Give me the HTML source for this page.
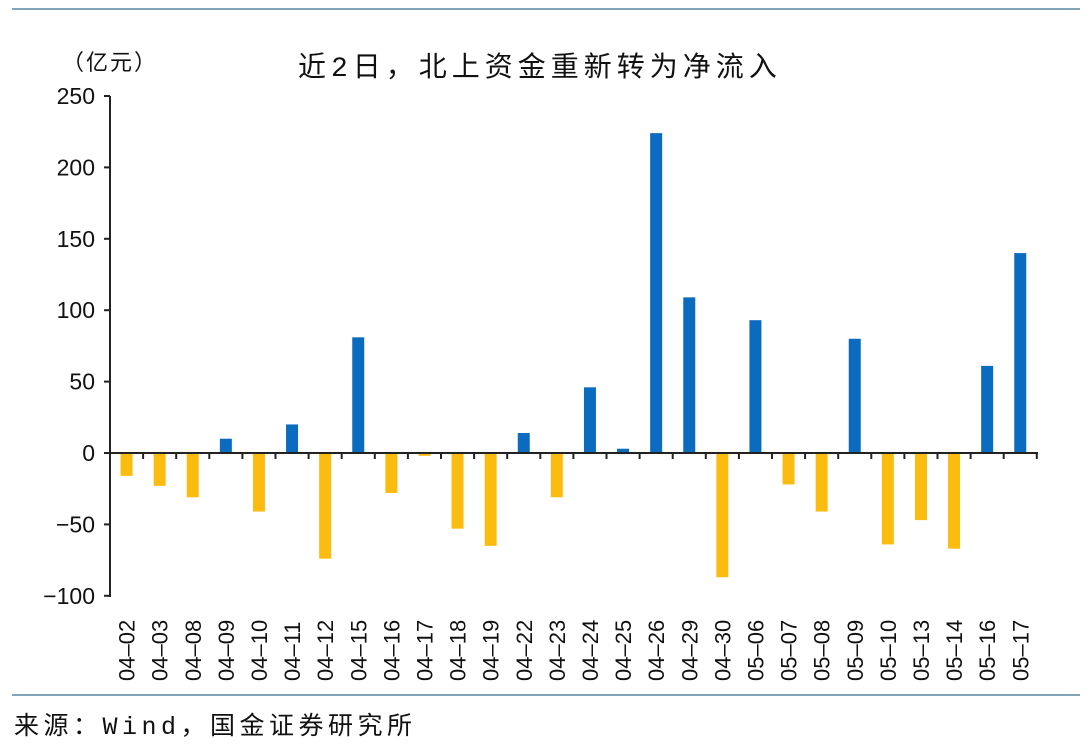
<!DOCTYPE html>
<html><head><meta charset="utf-8"><style>
body{margin:0;background:#fff;}
svg{display:block;font-family:"Liberation Sans","Noto Sans CJK SC",sans-serif;}
</style></head><body>
<svg width="1092" height="745" viewBox="0 0 1092 745">
<line x1="12" y1="9" x2="1080" y2="9" stroke="#5b86a6" stroke-width="1.5"/>
<line x1="12" y1="695" x2="1080" y2="695" stroke="#5b86a6" stroke-width="1.5"/>
<text x="62" y="70" font-size="22" fill="#111" letter-spacing="2" font-family="'Liberation Mono','Noto Sans CJK SC',monospace">（亿元）</text>
<text x="298" y="76" font-size="28" fill="#111" letter-spacing="5" font-family="'Liberation Mono','Noto Sans CJK SC',monospace">近2日，北上资金重新转为净流入</text>
<g id="chart"></g>
<text x="14" y="734" font-size="25" fill="#111" letter-spacing="4.5" font-family="'Liberation Mono','Noto Sans CJK SC',monospace">来源：Wind，国金证券研究所</text>
</svg>
<script>
var vals=[-16,-23,-31,10,-41,20,-74,81,-28,-2,-53,-65,14,-31,46,3,224,109,-87,93,-22,-41,80,-64,-47,-67,61,140];
var labs=["04-02","04-03","04-08","04-09","04-10","04-11","04-12","04-15","04-16","04-17","04-18","04-19","04-22","04-23","04-24","04-25","04-26","04-29","04-30","05-06","05-07","05-08","05-09","05-10","05-13","05-14","05-16","05-17"];
var g=document.getElementById('chart'),s='';
var x0=110,w=33.1,y0=453,k=1.428;
vals.forEach(function(v,i){var cx=x0+w*(i+0.5);var h=Math.abs(v)*k;var y=v>=0?y0-h:y0;
s+='<rect x="'+(cx-6)+'" y="'+y+'" width="12" height="'+h+'" fill="'+(v>=0?'#0b6bbf':'#fbbc0f')+'"/>';
s+='<text transform="translate('+(cx+8)+',681) rotate(-90)" font-size="22" fill="#111">'+labs[i].replace('-','\u2013')+'</text>';});
for(var t=-100;t<=250;t+=50){var y=y0-t*k;s+='<line x1="104" y1="'+y+'" x2="110" y2="'+y+'" stroke="#222" stroke-width="2"/>';
s+='<text x="95" y="'+(y+8)+'" font-size="23" fill="#111" text-anchor="end">'+(t<0?'\u2212'+(-t):t)+'</text>';}
for(var i=0;i<=28;i++){var x=x0+w*i;s+='<line x1="'+x+'" y1="'+y0+'" x2="'+x+'" y2="'+(y0+6)+'" stroke="#222" stroke-width="2"/>';}
s+='<line x1="110" y1="96" x2="110" y2="597" stroke="#222" stroke-width="2"/>';
s+='<line x1="110" y1="'+y0+'" x2="1038" y2="'+y0+'" stroke="#222" stroke-width="2"/>';
g.innerHTML=s;
</script>
</body></html>
